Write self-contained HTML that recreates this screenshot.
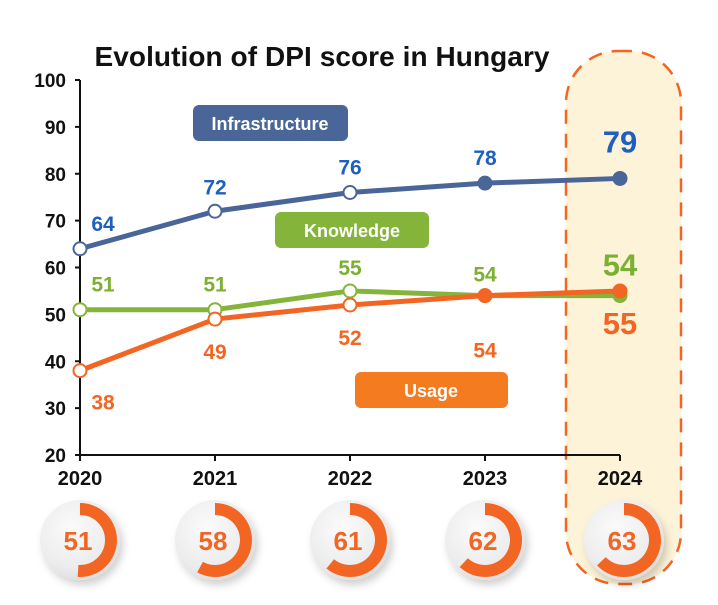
<!DOCTYPE html>
<html><head><meta charset="utf-8"><style>
body{margin:0;background:#fff;width:718px;height:605px;overflow:hidden}
svg{display:block;font-family:"Liberation Sans",sans-serif;font-weight:bold}
</style></head><body>
<svg id="c" width="718" height="605" viewBox="0 0 718 605">
<defs>
<radialGradient id="g" cx="40%" cy="35%" r="70%"><stop offset="0" stop-color="#fbfbfb"/><stop offset="0.7" stop-color="#ececec"/><stop offset="1" stop-color="#dcdcdc"/></radialGradient>
<filter id="sh" x="-30%" y="-30%" width="170%" height="170%"><feDropShadow dx="3" dy="5" stdDeviation="4" flood-color="#000" flood-opacity="0.18"/></filter>
</defs>
<rect x="566" y="51" width="115" height="533" rx="52" fill="#fdf3d9" stroke="#f26522" stroke-width="2.5" stroke-dasharray="14 10"/>
<text x="322" y="66" text-anchor="middle" font-size="28" fill="#111" textLength="455">Evolution of DPI score in Hungary</text>
<g id="axes"></g>
<g id="legend">
<rect x="193" y="105" width="155" height="36" rx="6" fill="#4a6699"/>
<text x="270" y="130" text-anchor="middle" font-size="18" fill="#fff">Infrastructure</text>
<rect x="275" y="212" width="154" height="36" rx="6" fill="#84b53a"/>
<text x="352" y="237" text-anchor="middle" font-size="18" fill="#fff">Knowledge</text>
<rect x="355" y="372" width="153" height="36" rx="6" fill="#f47b20"/>
<text x="431" y="397" text-anchor="middle" font-size="18" fill="#fff">Usage</text>
</g>
<g id="marks"></g>
</svg>
<script>
const years=["2020","2021","2022","2023","2024"];
const infra=[64,72,76,78,79];
const knowledge=[51,51,55,54,54];
const usage=[38,49,52,54,55];
const overall=[51,58,61,62,63];
const yTicks=[20,30,40,50,60,70,80,90,100];
const NS="http://www.w3.org/2000/svg";
const svg=document.getElementById('c');
const axes=document.getElementById('axes');
const marks=document.getElementById('marks');
function xs(i){return 80+i*135;}
function ys(v){return 455-(v-20)*375/80;}
function mk(tag,attrs,parent){const e=document.createElementNS(NS,tag);for(const k in attrs)e.setAttribute(k,attrs[k]);parent.appendChild(e);return e;}
let ax=mk('line',{x1:80,y1:ys(100),x2:80,y2:ys(20),stroke:'#111','stroke-width':2},axes);


let bx=mk('line',{x1:75,y1:ys(20),x2:xs(4),y2:ys(20),stroke:'#111','stroke-width':2},axes);


yTicks.forEach(t=>{
 const l=mk('line',{x1:75,y1:ys(t),x2:80,y2:ys(t),stroke:'#111','stroke-width':2},axes);
 
 
 const tx=mk('text',{x:66,y:ys(t)+7,'text-anchor':'end','font-size':19,fill:'#111'},axes);
 tx.textContent=t;
 
 
});
years.forEach((y,i)=>{
 const l=mk('line',{x1:xs(i),y1:ys(20),x2:xs(i),y2:ys(20)+6,stroke:'#111','stroke-width':2},axes);
 
 
 const tx=mk('text',{x:xs(i),y:485,'text-anchor':'middle','font-size':20,fill:'#111'},axes);
 tx.textContent=y;
 
 
});
function series(data,lineCol,labCol,name,offs){
 const pts=data.map((v,i)=>xs(i)+','+ys(v)).join(' ');
 const pl=mk('polyline',{points:pts,fill:'none',stroke:lineCol,'stroke-width':5,'stroke-linejoin':'round'},marks);
 
 
 data.forEach((v,i)=>{
  const c=mk('circle',{cx:xs(i),cy:ys(v),r:6.5,fill:i<3?'#fff':lineCol,stroke:lineCol,'stroke-width':2},marks);
  
  
  const big=i===4;
  const dx=i===0?23:0;
  const t=mk('text',{x:xs(i)+dx,y:ys(v)+offs[i],'text-anchor':'middle','font-size':big?31:21,fill:labCol},marks);
  t.textContent=v;
  
  
 });
}
series(knowledge,'#84b53a','#7cb032','knowledge',[-18,-18,-16,-14,-20]);
series(infra,'#4a6699','#1f5fbf','infrastructure',[-18,-17,-18,-18,-26]);
series(usage,'#f26522','#f26522','usage',[39,40,40,62,43]);
overall.forEach((v,i)=>{
 const cx=xs(i)+(i===4?4:0),cy=540;
 const g=mk('circle',{cx:cx,cy:cy,r:40,fill:'url(#g)',filter:'url(#sh)'},marks);
 
 
 const r=31,a=v/100*2*Math.PI;
 const ex=cx+r*Math.sin(a),ey=cy-r*Math.cos(a);
 const p=mk('path',{d:`M${cx},${cy-r} A${r},${r} 0 ${a>Math.PI?1:0} 1 ${ex},${ey}`,fill:'none',stroke:'#f26522','stroke-width':12},marks);
 
 
 const t=mk('text',{x:cx-2,y:cy+10,'text-anchor':'middle','font-size':26,fill:'#f26522'},marks);
 t.textContent=v;
 
 
});
</script>
</body></html>
